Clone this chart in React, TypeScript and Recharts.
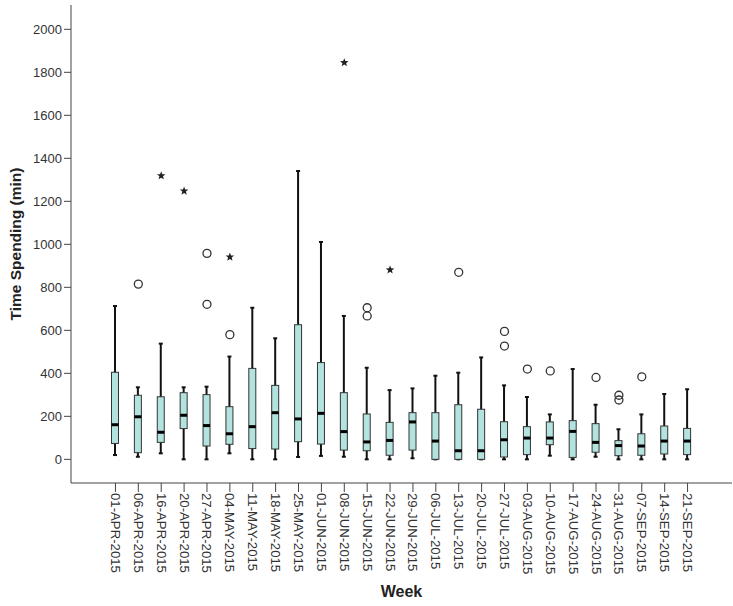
import React from 'react';
import {
  ComposedChart,
  Bar,
  Scatter,
  XAxis,
  YAxis,
  Label,
} from 'recharts';

const weeks = [
  '01-APR-2015', '06-APR-2015', '16-APR-2015', '20-APR-2015', '27-APR-2015',
  '04-MAY-2015', '11-MAY-2015', '18-MAY-2015', '25-MAY-2015', '01-JUN-2015',
  '08-JUN-2015', '15-JUN-2015', '22-JUN-2015', '29-JUN-2015', '06-JUL-2015',
  '13-JUL-2015', '20-JUL-2015', '27-JUL-2015', '03-AUG-2015', '10-AUG-2015',
  '17-AUG-2015', '24-AUG-2015', '31-AUG-2015', '07-SEP-2015', '14-SEP-2015',
  '21-SEP-2015',
];

// whisker ends, quartiles and medians per week (minutes)
const lowWhisker = [20, 12, 28, 0, 0, 28, 0, 0, 11, 16, 12, 0, 0, 5, 0, 0, 0, 0, 0, 17, 0, 12, 0, 0, 0, 0];
const q1 = [74, 31, 79, 143, 62, 70, 50, 48, 82, 71, 43, 40, 19, 43, 0, 0, 0, 11, 22, 68, 9, 33, 17, 19, 25, 22];
const medians = [161, 198, 126, 205, 157, 119, 152, 217, 188, 214, 129, 81, 88, 174, 85, 40, 40, 91, 99, 99, 130, 79, 64, 62, 85, 85];
const q3 = [405, 298, 291, 310, 301, 245, 423, 344, 626, 450, 310, 211, 172, 217, 217, 254, 233, 175, 152, 174, 180, 166, 87, 119, 155, 144];
const highWhisker = [713, 335, 538, 335, 338, 478, 705, 563, 1341, 1011, 667, 426, 322, 330, 389, 403, 474, 344, 290, 209, 420, 254, 140, 209, 304, 326];

// outliers: circles (mild) and stars (extreme)
const circleWeeks = ['06-APR-2015', '27-APR-2015', '27-APR-2015', '04-MAY-2015', '15-JUN-2015', '15-JUN-2015', '13-JUL-2015', '27-JUL-2015', '27-JUL-2015', '03-AUG-2015', '10-AUG-2015', '24-AUG-2015', '31-AUG-2015', '31-AUG-2015', '07-SEP-2015'];
const circleValues = [815, 958, 721, 580, 705, 667, 870, 595, 527, 420, 411, 381, 298, 276, 384];
const starWeeks = ['16-APR-2015', '20-APR-2015', '04-MAY-2015', '08-JUN-2015', '22-JUN-2015'];
const starValues = [1319, 1248, 941, 1845, 881];

const yTicks = [0, 200, 400, 600, 800, 1000, 1200, 1400, 1600, 1800, 2000];

const data = weeks.map((week, i) => ({
  week,
  range: [lowWhisker[i], highWhisker[i]],
  lo: lowWhisker[i],
  hi: highWhisker[i],
  q1: q1[i],
  med: medians[i],
  q3: q3[i],
}));

const circles = circleWeeks.map((week, i) => ({ week, v: circleValues[i] }));
const stars = starWeeks.map((week, i) => ({ week, v: starValues[i] }));

const FONT = '"Liberation Sans", Arial, sans-serif';
const BOX_FILL = '#b3e3df';

const BoxShape = (props: any) => {
  const { x, y, width, height, payload } = props;
  const top = Math.min(y, y + height);
  const bottom = Math.max(y, y + height);
  const span = payload.hi - payload.lo || 1;
  const py = (v: number) => bottom - ((v - payload.lo) / span) * (bottom - top);
  const cx = x + width / 2;
  const bw = 7;
  return (
    <g>
      <line x1={cx} x2={cx} y1={top} y2={bottom} stroke="#111" strokeWidth={2} />
      <line x1={cx - 2} x2={cx + 2} y1={top} y2={top} stroke="#111" strokeWidth={2} />
      <line x1={cx - 2} x2={cx + 2} y1={bottom} y2={bottom} stroke="#111" strokeWidth={2} />
      <rect
        x={cx - bw / 2}
        y={py(payload.q3)}
        width={bw}
        height={Math.max(py(payload.q1) - py(payload.q3), 1)}
        fill={BOX_FILL}
        stroke="#333"
        strokeWidth={1}
      />
      <line x1={cx - bw / 2} x2={cx + bw / 2} y1={py(payload.med)} y2={py(payload.med)} stroke="#000" strokeWidth={3} />
    </g>
  );
};

const CircleShape = (props: any) => {
  const { cx, cy } = props;
  return <circle cx={cx} cy={cy} r={4} fill="none" stroke="#333" strokeWidth={1.3} />;
};

const StarShape = (props: any) => {
  const { cx, cy } = props;
  const pts: string[] = [];
  for (let k = 0; k < 10; k++) {
    const r = k % 2 === 0 ? 4.5 : 1.9;
    const a = -Math.PI / 2 + (k * Math.PI) / 5;
    pts.push(`${cx + r * Math.cos(a)},${cy + r * Math.sin(a)}`);
  }
  return <polygon points={pts.join(' ')} fill="#222" />;
};

const WeekTick = (props: any) => {
  const { x, y, payload } = props;
  return (
    <text
      x={x}
      y={y}
      transform={`rotate(90, ${x}, ${y})`}
      textAnchor="start"
      dominantBaseline="central"
      fontSize={13.2}
      fontFamily={FONT}
      fill="#333"
    >
      {payload.value}
    </text>
  );
};

export default function App() {
  return (
    <div style={{ position: 'absolute', left: 0, top: 0, background: '#fff' }}>
      <ComposedChart
        width={733}
        height={606}
        data={data}
        margin={{ top: 5, right: 1, left: 0, bottom: 0 }}
      >
        <XAxis
          dataKey="week"
          type="category"
          allowDuplicatedCategory={false}
          height={123}
          padding={{ left: 33, right: 33 }}
          tickSize={9}
          tickMargin={1}
          tick={<WeekTick />}
          interval={0}
          stroke="#444"
          tickLine={{ stroke: '#444' }}
        >
          <Label
            value="Week"
            position="insideBottom"
            offset={9}
            style={{ fontFamily: FONT, fontSize: 16, fontWeight: 'bold', fill: '#222' }}
          />
        </XAxis>
        <XAxis xAxisId="top" orientation="top" height={0} tick={false} tickLine={false} stroke="#555" />
        <YAxis
          type="number"
          domain={[-110, 2113]}
          ticks={yTicks}
          allowDataOverflow
          width={71}
          tickSize={7}
          tickMargin={2}
          stroke="#444"
          tick={{ fontSize: 13, fontFamily: FONT, fill: '#333' }}
        >
          <Label
            value="Time Spending (min)"
            angle={-90}
            position="insideLeft"
            offset={15}
            style={{ fontFamily: FONT, fontSize: 15.5, fontWeight: 'bold', fill: '#222', textAnchor: 'middle' }}
          />
        </YAxis>
        <YAxis yAxisId="right" orientation="right" width={0} tick={false} tickLine={false} stroke="#555" domain={[0, 1]} />
        <Bar dataKey="range" barSize={8} shape={<BoxShape />} isAnimationActive={false} />
        <Scatter data={circles} dataKey="v" shape={<CircleShape />} isAnimationActive={false} />
        <Scatter data={stars} dataKey="v" shape={<StarShape />} isAnimationActive={false} />
      </ComposedChart>
    </div>
  );
}
